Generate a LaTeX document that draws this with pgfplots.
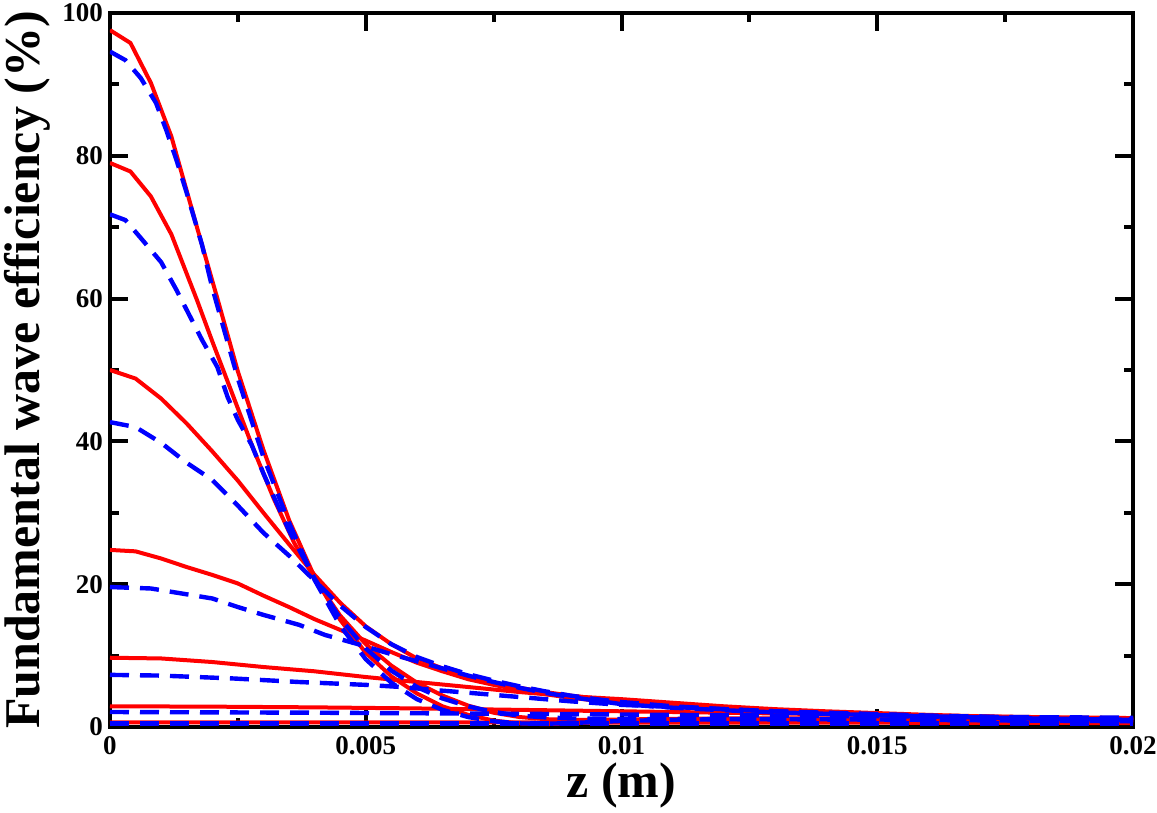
\documentclass[border=0pt]{standalone}
\usepackage{pgfplots}
\pgfplotsset{compat=1.18}
\usepackage{fontspec}
\setmainfont{Liberation Serif}
\begin{document}
\begin{tikzpicture}
\useasboundingbox (-55pt,-43pt) rectangle (523.5pt,363.5pt);
\begin{axis}[
  at={(0,0)}, anchor=south west,
  scale only axis, width=511.5pt, height=357pt,
  xmin=0, xmax=0.02, ymin=0, ymax=100,
  xtick={0,0.005,0.01,0.015,0.02},
  xticklabels={0,0.005,0.01,0.015,0.02},
  ytick={0,20,40,60,80,100},
  minor x tick num=1, minor y tick num=1,
  tick align=inside,
  major tick length=9pt, minor tick length=4.5pt,
  every tick/.style={black, line width=2pt},
  axis line style={line width=2.2pt},
  scaled x ticks=false,
  /pgf/number format/assume math mode=true,
  tick label style={font=\fontsize{13.5}{15}\selectfont\bfseries},
  xticklabel style={yshift=-1pt},
  label style={font=\fontsize{25}{28}\selectfont\bfseries},
  xlabel={z (m)},
  ylabel={Fundamental wave efficiency (\%)},
  xlabel style={at={(axis description cs:0.5,-0.0812)}, anchor=center},
  ylabel style={at={(axis description cs:-0.0811,0.5)}, anchor=center},
  clip=true,
]
% red solid
\addplot[red, line width=2pt] coordinates {(0,97.6)(0.0004,95.8)(0.0008,90.2)(0.0012,82.7)(0.0017,70)(0.0021,60)(0.0025,49.8)(0.003,38.8)(0.0035,29)(0.004,21)(0.0045,15)(0.005,10.4)(0.0055,7.1)(0.006,4.7)(0.0065,2.9)(0.007,1.7)(0.0075,0.9)(0.008,0.5)(0.0085,0.4)(0.009,0.5)(0.0095,0.65)(0.01,0.8)(0.011,1.0)(0.012,1.1)(0.013,1.15)(0.014,1.15)(0.015,1.1)(0.016,1.05)(0.017,1.0)(0.018,0.95)(0.019,0.9)(0.02,0.85)};
\addplot[red, line width=2pt] coordinates {(0,79)(0.0004,77.8)(0.0008,74.3)(0.0012,69)(0.0017,59.8)(0.002,54)(0.0024,46.5)(0.0028,39)(0.0032,32)(0.0036,25.8)(0.004,20.8)(0.0045,15.6)(0.005,11.6)(0.0055,8.6)(0.006,6.2)(0.0065,4.4)(0.007,3.0)(0.0075,2.0)(0.008,1.4)(0.0085,1.1)(0.009,1.0)(0.0095,1.0)(0.01,1.05)(0.011,1.15)(0.012,1.2)(0.013,1.2)(0.014,1.2)(0.015,1.15)(0.016,1.1)(0.017,1.05)(0.018,1.0)(0.019,0.95)(0.02,0.9)};
\addplot[red, line width=2pt] coordinates {(0,50)(0.0005,48.8)(0.001,46)(0.0015,42.5)(0.002,38.6)(0.0025,34.5)(0.003,30)(0.0035,25.6)(0.004,21.3)(0.0045,17.4)(0.005,14.1)(0.0055,11.6)(0.006,9.6)(0.0065,8.2)(0.007,7.1)(0.0075,6.2)(0.008,5.5)(0.0085,4.9)(0.009,4.4)(0.0095,4.0)(0.01,3.6)(0.011,3.0)(0.012,2.55)(0.013,2.2)(0.014,1.95)(0.015,1.75)(0.016,1.55)(0.017,1.4)(0.018,1.25)(0.019,1.15)(0.02,1.05)};
\addplot[red, line width=2pt] coordinates {(0,24.8)(0.0005,24.6)(0.001,23.6)(0.0015,22.4)(0.002,21.3)(0.0025,20.1)(0.003,18.4)(0.0035,16.8)(0.004,15.1)(0.0045,13.6)(0.005,12.1)(0.0055,10.5)(0.006,9.0)(0.0065,7.8)(0.007,6.7)(0.0075,5.9)(0.008,5.2)(0.0085,4.6)(0.009,4.1)(0.0095,3.7)(0.01,3.3)(0.011,2.8)(0.012,2.4)(0.013,2.1)(0.014,1.85)(0.015,1.65)(0.016,1.5)(0.017,1.35)(0.018,1.2)(0.019,1.1)(0.02,1.0)};
\addplot[red, line width=2pt] coordinates {(0,9.7)(0.001,9.6)(0.002,9.1)(0.003,8.4)(0.004,7.8)(0.005,7.0)(0.006,6.3)(0.007,5.6)(0.008,4.9)(0.009,4.3)(0.01,3.9)(0.011,3.4)(0.012,2.9)(0.013,2.5)(0.014,2.2)(0.015,1.95)(0.016,1.7)(0.017,1.5)(0.018,1.35)(0.019,1.2)(0.02,1.1)};
\addplot[red, line width=2pt] coordinates {(0,2.9)(0.002,2.85)(0.004,2.75)(0.006,2.6)(0.008,2.4)(0.01,2.2)(0.012,2.0)(0.014,1.8)(0.016,1.6)(0.018,1.4)(0.02,1.25)};
\addplot[red, line width=2pt] coordinates {(0,0.65)(0.005,0.65)(0.01,0.62)(0.015,0.6)(0.02,0.55)};
% blue dashed
\addplot[blue, line width=2.2pt, dash pattern=on 9.5pt off 5.5pt] coordinates {(0,94.6)(0.0003,93.4)(0.0006,90.9)(0.0009,87.4)(0.0011,83.6)(0.0013,79.4)(0.0015,74.8)(0.0018,67.5)(0.002,61.5)(0.0025,48.8)(0.003,37.8)(0.0035,28.6)(0.004,20.6)(0.0045,14.2)(0.005,9.5)(0.0055,6.2)(0.006,3.9)(0.0065,2.4)(0.007,1.4)(0.0075,0.8)(0.008,0.5)(0.0085,0.45)(0.009,0.55)(0.0095,0.7)(0.01,0.85)(0.011,1.0)(0.012,1.1)(0.014,1.1)(0.016,1.0)(0.018,0.9)(0.02,0.8)};
\addplot[blue, line width=2.2pt, dash pattern=on 9.5pt off 5.5pt] coordinates {(0,71.8)(0.0003,71)(0.0006,68.5)(0.001,65.1)(0.0013,61.2)(0.0018,54.2)(0.0021,50.4)(0.0023,46.2)(0.0025,43)(0.00277,39.5)(0.003,35.5)(0.0035,27.5)(0.004,20.8)(0.0045,15.2)(0.005,11)(0.0055,7.9)(0.006,5.6)(0.0065,4.0)(0.007,2.9)(0.0075,2.1)(0.008,1.6)(0.0085,1.35)(0.009,1.2)(0.01,1.1)(0.012,1.1)(0.015,1.0)(0.02,0.85)};
\addplot[blue, line width=2.2pt, dash pattern=on 9.5pt off 5.5pt] coordinates {(0,42.7)(0.0005,42)(0.001,39.8)(0.0015,37)(0.002,34.6)(0.0025,31)(0.003,27.2)(0.0035,24)(0.004,20.5)(0.0045,17)(0.005,14)(0.0055,11.6)(0.006,9.8)(0.0065,8.5)(0.007,7.4)(0.0075,6.5)(0.008,5.7)(0.0085,5.0)(0.009,4.4)(0.0095,3.9)(0.01,3.5)(0.011,2.9)(0.012,2.5)(0.013,2.2)(0.014,1.95)(0.015,1.75)(0.016,1.55)(0.017,1.4)(0.018,1.25)(0.019,1.1)(0.02,1.0)};
\addplot[blue, line width=2.2pt, dash pattern=on 9.5pt off 5.5pt] coordinates {(0,19.6)(0.0008,19.4)(0.0014,18.7)(0.002,18.0)(0.0025,16.8)(0.003,15.7)(0.0037,14.3)(0.0042,12.9)(0.0048,11.7)(0.0055,10.2)(0.006,9.2)(0.0065,8.2)(0.007,7.2)(0.0075,6.3)(0.008,5.5)(0.0085,4.8)(0.009,4.2)(0.0095,3.7)(0.01,3.2)(0.011,2.7)(0.012,2.35)(0.013,2.05)(0.014,1.85)(0.015,1.65)(0.016,1.5)(0.017,1.35)(0.018,1.2)(0.019,1.1)(0.02,1.0)};
\addplot[blue, line width=2.2pt, dash pattern=on 9.5pt off 5.5pt] coordinates {(0,7.3)(0.001,7.2)(0.0024,6.8)(0.0037,6.3)(0.005,5.9)(0.0057,5.6)(0.0063,5.2)(0.007,4.8)(0.008,4.2)(0.009,3.6)(0.01,3.1)(0.011,2.8)(0.012,2.5)(0.013,2.2)(0.014,2.0)(0.015,1.8)(0.016,1.6)(0.017,1.45)(0.018,1.3)(0.019,1.2)(0.02,1.1)};
\addplot[blue, line width=2.2pt, dash pattern=on 9.5pt off 5.5pt] coordinates {(0,2.1)(0.004,2.0)(0.008,1.85)(0.012,1.65)(0.016,1.45)(0.02,1.3)};
\addplot[blue, line width=2.2pt, dash pattern=on 9.5pt off 5.5pt] coordinates {(0,0.5)(0.01,0.5)(0.02,0.5)};
\end{axis}
\end{tikzpicture}
\end{document}
